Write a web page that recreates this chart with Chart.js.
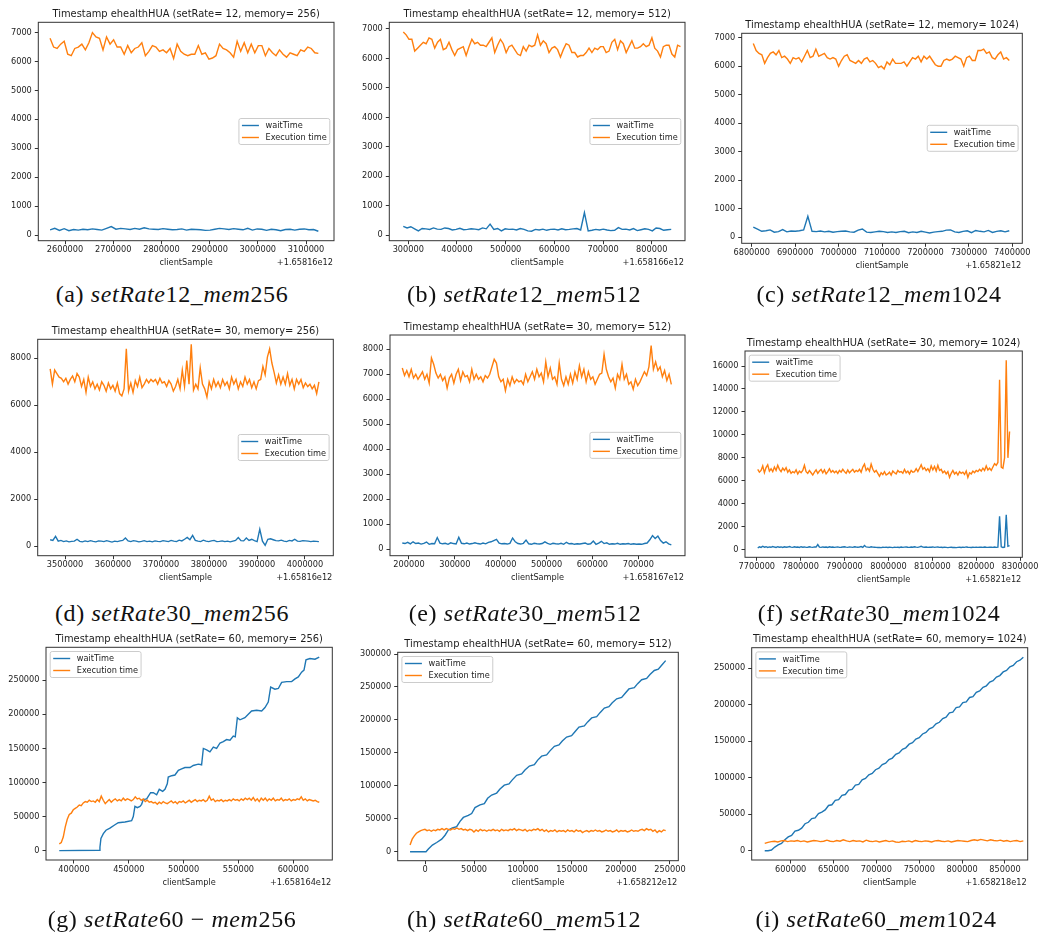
<!DOCTYPE html>
<html>
<head>
<meta charset="utf-8">
<script src="https://cdn.jsdelivr.net/npm/chart.js@4.4.1/dist/chart.umd.min.js"></script>
<style>
  html, body { margin: 0; padding: 0; background: #fff; overflow: hidden; }
  body { position: relative; width: 1038px; height: 933px; }
  canvas { position: absolute; }
  .cap { position: absolute; transform: translate(-50%, -50%); white-space: nowrap;
         font-family: "Liberation Serif", "DejaVu Serif", serif; font-size: 24px; letter-spacing: 0.6px; color: #111; }
  .cap i { font-style: italic; }
</style>
</head>
<body>
<script>
// ---------- sample times (clientSample minus the axis offset) ----------
const aSpan = [2569000, 3125500];
const bExecSpan = [289700, 859000];
const bWaitSpan = [289700, 840000];
const cSpan = [6803700, 7393000];
const dSpan = [3469000, 4029000];
const eSpan = [185400, 772000];
const fSpan = [7702000, 8276000];
const gSpan = [386600, 623700];
const hSpan = [-15300, 245600];
const iSpan = [569700, 871400];

// ---------- setRate 12 ----------
const aExec = [6800, 6500, 6450, 6600, 6700, 6250, 6200, 6450, 6500, 6600, 6400, 6650, 7000, 6850, 6800, 6400, 6850, 6600,
  6750, 6500, 6500, 6250, 6550, 6300, 6450, 6500, 6650, 6200, 6350, 6550, 6500, 6350, 6400, 6300, 6450, 6100, 6600, 6350,
  6250, 6200, 6250, 6250, 6550, 6250, 6300, 6080, 6120, 6200, 6600, 6450, 6400, 6300, 6150, 6700, 6350, 6650, 6300, 6600,
  6300, 6550, 6550, 6200, 6450, 6300, 6200, 6400, 6250, 6150, 6300, 6250, 6200, 6400, 6350, 6500, 6450, 6300, 6280];
const aWait = [180, 230, 160, 220, 150, 190, 170, 200, 180, 210, 190, 170, 230, 290, 200, 230, 210, 190, 230, 200, 250, 210,
  200, 190, 220, 200, 180, 190, 210, 170, 200, 190, 180, 160, 170, 200, 230, 210, 190, 220, 200, 180, 230, 170, 210, 200,
  160, 200, 180, 150, 190, 200, 170, 200, 210, 180, 190, 130];

const bExec = [6900, 6800, 6650, 6650, 6250, 6350, 6450, 6550, 6500, 6700, 6650, 6350, 6550, 6650, 6300, 6350, 6550, 6300,
  6100, 6300, 6350, 6400, 6100, 6400, 6650, 6500, 6550, 6450, 6450, 6400, 6550, 6700, 6200, 6450, 6650, 6500, 6200, 6400,
  6450, 6300, 6150, 6100, 6400, 6250, 6450, 6400, 6450, 6800, 6450, 6600, 6500, 6200, 6350, 6400, 6300, 6050, 6300, 6500,
  6450, 6200, 6200, 6050, 6100, 6100, 6200, 6350, 6200, 6350, 6300, 6400, 6400, 6200, 6250, 6550, 6650, 6300, 6600, 6500,
  6200, 6400, 6600, 6350, 6350, 6400, 6500, 6400, 6450, 6700, 6350, 6250, 6050, 6400, 6450, 6450, 6150, 6050, 6450, 6400];
const bWait = [300, 250, 290, 220, 150, 230, 220, 200, 250, 210, 200, 250, 230, 180, 200, 240, 190, 200, 220, 210, 190, 250,
  220, 380, 200, 230, 150, 220, 200, 210, 180, 230, 200, 150, 140, 200, 180, 210, 170, 200, 210, 180, 220, 190, 200, 220,
  230, 180, 770, 150, 170, 200, 180, 210, 180, 160, 170, 260, 200, 210, 180, 230, 160, 190, 220, 200, 150, 250, 230, 170,
  190, 200];

const cExec = [6800, 6550, 6450, 6400, 6100, 6300, 6450, 6500, 6400, 6550, 6300, 6350, 6250, 6100, 6300, 6250, 6300, 6150,
  6350, 6550, 6300, 6350, 6600, 6350, 6400, 6450, 6300, 6250, 6300, 6250, 6000, 6200, 6350, 6400, 6200, 6150, 6100, 6200,
  6100, 6250, 6300, 6150, 6200, 6100, 5950, 6000, 5900, 6150, 6050, 6250, 6100, 6100, 6100, 6150, 6000, 6150, 6300, 6250,
  6350, 6150, 6350, 6250, 6350, 6200, 6050, 6000, 6000, 6200, 6250, 6200, 6250, 6350, 6300, 6250, 6000, 6300, 6350, 6200,
  6200, 6550, 6550, 6600, 6450, 6500, 6300, 6250, 6400, 6500, 6250, 6300, 6200];
const cWait = [350, 280, 200, 220, 250, 170, 190, 260, 180, 210, 200, 220, 250, 730, 200, 190, 210, 180, 200, 170, 190, 200,
  210, 180, 170, 240, 280, 170, 160, 180, 200, 190, 160, 180, 160, 190, 200, 150, 180, 160, 200, 170, 140, 170, 190, 200,
  240, 250, 180, 160, 200, 220, 150, 230, 200, 180, 230, 160, 200, 220, 180, 220];

// ---------- setRate 30 ----------
const dExec = [7550, 6900, 7500, 7350, 7200, 7150, 7000, 7150, 6900, 7100, 7250, 7000, 7350, 7200, 6800, 7100, 6550, 7200,
  6800, 7000, 6700, 6900, 6650, 7000, 6850, 6600, 6950, 6700, 6850, 6600, 6950, 6500, 6400, 6700, 8400, 6600, 6950, 6550,
  7050, 6800, 7200, 6750, 6900, 7100, 6950, 7100, 7000, 7100, 6900, 7150, 6950, 7000, 6800, 7050, 6900, 6600, 6800, 7100,
  6700, 7500, 6800, 7900, 6900, 8600, 6650, 6900, 6700, 7600, 6900, 6700, 6350, 7000, 6700, 7100, 6800, 7000, 6750, 7100,
  6850, 7000, 6700, 7200, 6900, 7100, 6700, 7000, 6800, 7200, 6900, 7100, 6750, 7000, 6700, 7050, 7100, 7650, 7300, 8050,
  8400, 7800, 7400, 6950, 7300, 6900, 7200, 6900, 7350, 6850, 7100, 6700, 7100, 6900, 7100, 6750, 6950, 6800, 6900, 6700,
  6850, 6500, 7000];
const dWait = [280, 250, 420, 220, 250, 200, 230, 190, 210, 220, 300, 210, 190, 230, 200, 240, 210, 190, 230, 220, 200, 240,
  210, 180, 220, 200, 230, 250, 350, 230, 200, 240, 220, 190, 210, 240, 200, 220, 190, 230, 210, 200, 240, 220, 200, 250,
  220, 200, 260, 230, 300, 380, 280, 460, 250, 220, 200, 260, 220, 200, 230, 250, 200, 210, 230, 200, 220, 190, 220, 250,
  370, 240, 230, 350, 250, 300, 240, 200, 730, 220, 40, 300, 320, 280, 240, 230, 260, 220, 200, 250, 230, 300, 220, 210,
  240, 230, 220, 200, 220, 210, 200];

const eExec = [7250, 6950, 7150, 6900, 7200, 6850, 7000, 6800, 6950, 7100, 6800, 7000, 6650, 7650, 7400, 7050, 6850, 7000,
  6750, 6900, 6450, 6850, 7000, 6650, 7000, 7200, 6750, 7100, 6900, 6950, 6700, 7200, 6800, 7000, 6800, 6900, 6700, 6950,
  6850, 7000, 7300, 7600, 7450, 6900, 6700, 6800, 6350, 6800, 6550, 6900, 6650, 6800, 6700, 6750, 6600, 7000, 6700, 6900,
  7100, 6800, 7200, 6900, 7050, 6700, 7500, 6900, 7250, 6800, 6900, 6600, 7450, 6800, 6550, 6900, 6600, 7000, 6650, 7100,
  6800, 7350, 6900, 7200, 6700, 7100, 6800, 6900, 6600, 6800, 7000, 7050, 7800, 7200, 6900, 6700, 6850, 6450, 7000, 6800,
  7400, 6800, 7000, 6600, 6700, 6400, 6800, 6550, 6700, 6900, 7100, 6950, 7300, 8150, 7200, 7500, 7150, 7300, 6900, 7150,
  6750, 7000, 6600];
const eWait = [250, 230, 280, 220, 300, 230, 250, 210, 240, 290, 200, 230, 220, 470, 250, 220, 240, 200, 260, 230, 210, 480,
  240, 220, 250, 210, 230, 260, 230, 210, 250, 220, 280, 300, 350, 400, 250, 220, 230, 210, 240, 450, 300, 230, 210, 240,
  370, 220, 200, 240, 220, 210, 230, 300, 240, 200, 240, 220, 210, 240, 200, 280, 220, 230, 200, 220, 210, 230, 250, 200,
  220, 330, 200, 250, 320, 230, 260, 200, 220, 210, 240, 200, 220, 210, 230, 200, 220, 200, 210, 200, 230, 250, 380, 550,
  430, 530, 350, 250, 300, 220, 180];

const fExec = [
  7000, 6750, 6900, 7300, 6700, 7150, 7400, 6850, 7050, 6800, 7200, 6900,
  7350, 7000, 6800, 7100, 6900, 7150, 6750, 6950, 6650, 6800, 6700, 6950,
  6600, 6850, 6700, 6900, 7350, 6800, 6650, 6900, 6700, 6500, 6750, 6950,
  6650, 6850, 7000, 6700, 6950, 6600, 6800, 7050, 6750, 6900, 6700, 6850,
  6650, 6900, 6750, 7000, 6800, 6650, 6950, 6700, 6850, 7000, 6750, 6900,
  6800, 7000, 6750, 7200, 7450, 6900, 7100, 6850, 7450, 7000, 6750, 6900,
  6650, 6400, 6700, 6550, 6800, 6500, 6600, 6750, 6500, 6850, 6700, 6600,
  6900, 6750, 6800, 6650, 7000, 6700, 6850, 6600, 6900, 6750, 6800, 7050,
  6800, 7100, 7400, 7000, 7150, 6900, 7050, 6800, 7300, 6950, 7250, 6850,
  7350, 6900, 7000, 6700, 6850, 6600, 6800, 6300, 6650, 6900, 6600, 6750,
  6500, 6800, 6650, 6750, 6550, 6850, 6300, 6700, 6600, 6850, 6700, 6900,
  6800, 7000, 6850, 7100, 6900, 7300, 6950, 7100, 6900, 7200, 7500, 7350,
  7600, 14800, 7200, 7100, 8000, 16500, 8000, 10300];
const fWait = [
  150, 250, 200, 300, 220, 260, 200, 240, 210, 280, 230, 200,
  260, 220, 240, 200, 250, 210, 230, 280, 220, 200, 250, 210,
  230, 200, 260, 220, 240, 200, 210, 250, 220, 200, 240, 230,
  450, 220, 200, 240, 210, 230, 200, 250, 210, 230, 200, 220,
  240, 200, 210, 230, 250, 220, 200, 240, 220, 200, 250, 230,
  220, 240, 270, 200, 360, 240, 220, 200, 250, 220, 210, 200,
  190, 200, 180, 210, 200, 220, 190, 210, 200, 180, 220, 200,
  210, 190, 230, 200, 220, 240, 210, 200, 230, 210, 250, 220,
  200, 240, 300, 220, 210, 230, 200, 220, 210, 240, 200, 220,
  230, 200, 210, 190, 220, 200, 180, 200, 210, 190, 200, 180,
  200, 210, 190, 220, 200, 240, 210, 200, 190, 210, 200, 220,
  200, 210, 220, 200, 230, 210, 200, 220, 210, 200, 230, 200,
  220, 2900, 250, 200, 230, 3050, 300, 350];

// ---------- setRate 60 ----------
const gExec = [10000, 12000, 20000, 35000, 46000, 53000, 55000, 60000, 62000, 64000, 67000, 66000, 70000, 72000, 71000,
  74000, 72000, 73000, 71000, 75000, 72000, 80000, 74000, 69000, 72000, 75000, 71000, 74000, 76000, 73000, 75000, 73000,
  77000, 74000, 76000, 75000, 73000, 75000, 79000, 76000, 77000, 74000, 76000, 72000, 74000, 71000, 72000, 70000, 71000,
  68000, 71000, 69000, 72000, 70000, 69000, 71000, 73000, 70000, 72000, 69000, 72000, 71000, 73000, 70000, 72000, 74000,
  71000, 73000, 75000, 72000, 74000, 73000, 75000, 72000, 74000, 80000, 74000, 76000, 72000, 74000, 73000, 75000, 72000,
  74000, 73000, 75000, 73000, 76000, 74000, 75000, 73000, 76000, 74000, 77000, 75000, 77000, 74000, 78000, 73000, 76000,
  72000, 77000, 74000, 77000, 73000, 76000, 74000, 77000, 73000, 75000, 74000, 77000, 73000, 75000, 74000, 76000, 73000,
  75000, 74000, 76000, 75000, 79000, 74000, 76000, 73000, 75000, 74000, 73000, 74000, 72000, 71000];
const gWaitX = [386600, 423100, 423700, 424600, 426800, 429200, 432800, 437400, 440400, 446500, 452600, 454100, 455600,
  457800, 460200, 461700, 463200, 466300, 469900, 472400, 475400, 477800, 480900, 483000, 485100, 486000, 489100, 492100,
  495200, 498200, 501200, 505800, 508800, 513400, 516400, 518000, 521000, 524000, 527100, 530100, 533200, 536200, 539200,
  542300, 545300, 547100, 549000, 551400, 555900, 559000, 562000, 566600, 571200, 574200, 577200, 579400, 583300, 586400,
  589400, 594000, 598500, 601600, 604600, 607600, 609800, 611600, 615200, 619800, 623700];
const gWaitY = [0, 500, 5000, 18000, 25000, 30000, 33000, 38000, 41000, 42000, 44000, 50000, 65000, 63000, 65000, 68000,
  75000, 76000, 85000, 85000, 82000, 90000, 87000, 90000, 98000, 108000, 110000, 111000, 118000, 120000, 122000, 122000,
  125000, 127000, 126000, 150000, 148000, 145000, 152000, 150000, 158000, 160000, 163000, 162000, 168000, 167000, 195000,
  192000, 195000, 200000, 205000, 206000, 205000, 210000, 218000, 240000, 237000, 238000, 247000, 248000, 248000, 252000,
  255000, 262000, 265000, 280000, 282000, 281000, 284000];

const hExec = [10000, 19000, 24000, 28000, 30000, 32000, 33000, 34000, 32000, 33000, 31000, 33000, 32000, 34000, 33000,
  35000, 33000, 35000, 34000, 33000, 35000, 34000, 36000, 34000, 35000, 33000, 34000, 32000, 34000, 33000, 30000, 33000,
  31000, 34000, 32000, 33000, 31000, 33000, 32000, 34000, 32000, 33000, 31000, 34000, 32000, 33000, 32000, 34000, 33000,
  35000, 32000, 34000, 33000, 32000, 34000, 31000, 33000, 32000, 34000, 33000, 35000, 32000, 34000, 31000, 33000, 30000,
  32000, 31000, 33000, 30000, 32000, 31000, 32000, 30000, 33000, 31000, 32000, 30000, 33000, 31000, 32000, 29000, 31000,
  32000, 30000, 32000, 31000, 33000, 31000, 32000, 30000, 31000, 33000, 31000, 32000, 30000, 31000, 33000, 30000, 32000,
  31000, 32000, 30000, 31000, 33000, 31000, 32000, 31000, 33000, 34000, 32000, 35000, 33000, 34000, 31000, 33000, 29000,
  32000, 30000, 33000, 32000];
const hWaitX = [-15300, 1000, 3400, 7500, 11900, 17000, 20400, 23800, 27900, 32300, 35700, 39100, 44200, 47600, 51000,
  56100, 60500, 63900, 68000, 73100, 76500, 80900, 85700, 89100, 93500, 98600, 102000, 106500, 111600, 115000, 119000,
  124100, 127500, 132000, 136700, 140100, 144500, 149600, 153000, 157100, 162600, 166000, 170100, 175200, 178600, 183000,
  187700, 191100, 195600, 200700, 204100, 208100, 213600, 217000, 221100, 226200, 229600, 234000, 238100, 241500, 245600];
const hWaitY = [0, 0, 4000, 10000, 14000, 19000, 25000, 33000, 36000, 38000, 46000, 52000, 55000, 58000, 67000, 71000,
  73000, 81000, 86000, 89000, 95000, 101000, 103000, 109000, 116000, 118000, 124000, 130000, 132000, 139000, 145000,
  147000, 153000, 160000, 162000, 168000, 174000, 176000, 182000, 189000, 191000, 197000, 203000, 205000, 211000, 218000,
  220000, 226000, 232000, 234000, 240000, 247000, 249000, 255000, 261000, 263000, 269000, 275000, 277000, 283000, 290000];

const iExec = [10000, 11500, 12500, 13000, 12000, 13500, 14000, 12500, 13500, 13000, 14000, 12500, 13500, 12000, 13000,
  14000, 13500, 12500, 13000, 14500, 13000, 12500, 14000, 13000, 15000, 13500, 12500, 14000, 13000, 13500, 12000, 14500,
  13000, 12500, 13500, 12000, 13000, 14000, 12500, 13500, 12000, 11500, 13000, 12500, 13500, 12000, 14000, 13000, 12500,
  13500, 13000, 12000, 13500, 14000, 13000, 12500, 13500, 12000, 13000, 14000, 13500, 13000, 12500, 14000, 15000, 14000,
  15500, 14500, 13500, 15000, 14000, 13500, 14500, 13000, 14000, 12500, 13500, 14000, 12500, 13500];
const iWait = [0, 0, 1000, 5000, 8000, 10000, 15000, 19000, 21000, 27000, 28000, 31000, 37000, 39000, 44000, 45000, 51000,
  53000, 56000, 62000, 63000, 69000, 70000, 76000, 77000, 83000, 84000, 90000, 91000, 97000, 99000, 104000, 106000,
  111000, 113000, 118000, 120000, 125000, 127000, 132000, 134000, 139000, 141000, 146000, 148000, 153000, 155000, 160000,
  162000, 167000, 169000, 174000, 176000, 181000, 183000, 189000, 190000, 196000, 197000, 203000, 204000, 210000, 211000,
  217000, 219000, 224000, 226000, 231000, 233000, 238000, 240000, 245000, 247000, 252000, 254000, 259000, 261000, 265000];

// ---------- tick labels ----------
const yTicks7k = [0, 1000, 2000, 3000, 4000, 5000, 6000, 7000];
const yTicks8kBy2 = [0, 2000, 4000, 6000, 8000];
const yTicks8k = [0, 1000, 2000, 3000, 4000, 5000, 6000, 7000, 8000];
const yTicks16k = [0, 2000, 4000, 6000, 8000, 10000, 12000, 14000, 16000];
const yTicks250k = [0, 50000, 100000, 150000, 200000, 250000];
const yTicks300k = [0, 50000, 100000, 150000, 200000, 250000, 300000];
const xTicksA = [2600000, 2700000, 2800000, 2900000, 3000000, 3100000];
const xTicksB = [300000, 400000, 500000, 600000, 700000, 800000];
const xTicksC = [6800000, 6900000, 7000000, 7100000, 7200000, 7300000, 7400000];
const xTicksD = [3500000, 3600000, 3700000, 3800000, 3900000, 4000000];
const xTicksE = [200000, 300000, 400000, 500000, 600000, 700000];
const xTicksF = [7700000, 7800000, 7900000, 8000000, 8100000, 8200000, 8300000];
const xTicksG = [400000, 450000, 500000, 550000, 600000];
const xTicksH = [0, 50000, 100000, 150000, 200000, 250000];
const xTicksI = [600000, 650000, 700000, 750000, 800000, 850000];
const xOffsets = ['+1.65816e12', '+1.658166e12', '+1.65821e12', '+1.65816e12', '+1.658167e12', '+1.65821e12',
  '+1.658164e12', '+1.658212e12', '+1.658218e12'];
const setRates = [12, 12, 12, 30, 30, 30, 60, 60, 60];
const memories = [256, 512, 1024, 256, 512, 1024, 256, 512, 1024];
const letters = ['a', 'b', 'c', 'd', 'e', 'f', 'g', 'h', 'i'];
const seriesNames = ['waitTime', 'Execution time'];
const xLabel = 'clientSample';

// evenly spaced sample times across a span
function series(values, span) {
  const n = values.length;
  return values.map((v, i) => ({ x: span[0] + (span[1] - span[0]) * i / (n - 1), y: v }));
}
function pairs(xs, ys) { return xs.map((x, i) => ({ x, y: ys[i] })); }

const panelData = [
  { wait: series(aWait, aSpan), exec: series(aExec, aSpan), xt: xTicksA, yt: yTicks7k, legend: 'center right' },
  { wait: series(bWait, bWaitSpan), exec: series(bExec, bExecSpan), xt: xTicksB, yt: yTicks7k, legend: 'center right' },
  { wait: series(cWait, cSpan), exec: series(cExec, cSpan), xt: xTicksC, yt: yTicks7k, legend: 'center right' },
  { wait: series(dWait, dSpan), exec: series(dExec, dSpan), xt: xTicksD, yt: yTicks8kBy2, legend: 'center right' },
  { wait: series(eWait, eSpan), exec: series(eExec, eSpan), xt: xTicksE, yt: yTicks8k, legend: 'center right' },
  { wait: series(fWait, fSpan), exec: series(fExec, fSpan), xt: xTicksF, yt: yTicks16k, legend: 'upper left' },
  { wait: pairs(gWaitX, gWaitY), exec: series(gExec, gSpan), xt: xTicksG, yt: yTicks250k, legend: 'upper left' },
  { wait: pairs(hWaitX, hWaitY), exec: series(hExec, hSpan), xt: xTicksH, yt: yTicks300k, legend: 'upper left' },
  { wait: series(iWait, iSpan), exec: series(iExec, iSpan), xt: xTicksI, yt: yTicks250k, legend: 'upper left' },
];

// page geometry: axes box [left, top, right, bottom], view limits, caption centre
const layout = [
  { box: [38.3, 22.3, 334, 240.7], xLim: [2544600, 3158000], yLim: [-197, 7355], cap: [172, 294] },
  { box: [389.3, 22.3, 685, 240.7], xLim: [261000, 868300], yLim: [-183, 7227], cap: [524, 294] },
  { box: [741.7, 33.3, 1022.3, 243.3], xLim: [6777000, 7423000], yLim: [-221, 7155], cap: [879, 294] },
  { box: [37.7, 339.3, 333.3, 555.7], xLim: [3443000, 4059000], yLim: [-400, 8809], cap: [172, 613] },
  { box: [390, 335, 685, 555.7], xLim: [158600, 801800], yLim: [-256, 8573], cap: [525, 613] },
  { box: [745, 351, 1022.3, 557.3], xLim: [7673000, 8305000], yLim: [-662, 17307], cap: [879, 613] },
  { box: [46, 647.3, 332.3, 860], xLim: [374500, 635600], yLim: [-13700, 298400], cap: [172, 919] },
  { box: [397.7, 652.3, 678.3, 860.7], xLim: [-27900, 258500], yLim: [-13660, 302600], cap: [524, 919] },
  { box: [751.7, 647.7, 1027.7, 860], xLim: [554500, 876500], yLim: [-12700, 278200], cap: [876, 919] },
];

const BLUE = '#1f77b4', ORANGE = '#ff7f0e', INK = '#1c1c1c', SPINE = '#333333';
const FONT = '"DejaVu Sans", sans-serif';
const Y_W = 46, X_H = 30;

Chart.defaults.font.family = FONT;
Chart.defaults.color = INK;

// frame, title, axis label, offset text and in-axes legend
const decor = {
  id: 'decor',
  afterDraw(chart, args, o) {
    const ctx = chart.ctx, ca = chart.chartArea;
    ctx.save();
    ctx.strokeStyle = SPINE; ctx.lineWidth = 1;
    ctx.strokeRect(ca.left, ca.top, ca.right - ca.left, ca.bottom - ca.top);

    ctx.fillStyle = INK;
    ctx.font = '9.9px ' + FONT;
    ctx.textAlign = 'center'; ctx.textBaseline = 'alphabetic';
    ctx.fillText(o.title, (ca.left + ca.right) / 2, ca.top - 5.5);
    ctx.font = '8.2px ' + FONT;
    ctx.fillText(o.xlabel, (ca.left + ca.right) / 2, ca.bottom + 24.5);
    ctx.textAlign = 'right';
    ctx.fillText(o.offset, ca.right - 1, ca.bottom + 24.5);

    // legend
    const items = o.items;
    ctx.font = '8.2px ' + FONT;
    const pad = 3, hl = 17, htp = 6.6, rowH = 8, sp = 4, inset = 4.2;
    const tw = Math.max(...items.map(it => ctx.measureText(it.label).width));
    const w = pad * 2 + hl + htp + tw;
    const h = pad * 2 + items.length * rowH + (items.length - 1) * sp;
    let x, y;
    if (o.loc === 'center right') { x = ca.right - inset - w; y = (ca.top + ca.bottom) / 2 - h / 2; }
    else { x = ca.left + inset; y = ca.top + inset; }
    ctx.beginPath();
    ctx.roundRect(x, y, w, h, 2);
    ctx.fillStyle = 'rgba(255,255,255,0.8)'; ctx.fill();
    ctx.strokeStyle = '#cccccc'; ctx.lineWidth = 1; ctx.stroke();
    items.forEach((it, i) => {
      const cy = y + pad + rowH / 2 + i * (rowH + sp);
      ctx.beginPath();
      ctx.moveTo(x + pad, cy); ctx.lineTo(x + pad + hl, cy);
      ctx.strokeStyle = it.color; ctx.lineWidth = 1.4; ctx.stroke();
      ctx.fillStyle = INK; ctx.textAlign = 'left'; ctx.textBaseline = 'middle';
      ctx.fillText(it.label, x + pad + hl + htp, cy + 0.5);
    });
    ctx.restore();
  }
};

panelData.forEach((p, k) => {
  const L = layout[k];
  const [bl, bt, br, bb] = L.box;
  const cl = Math.floor(bl) - Y_W, ct = Math.floor(bt) - 24;
  const cw = Math.ceil(br) + 16 - cl, ch = Math.ceil(bb) + 36 - ct;
  const cv = document.createElement('canvas');
  cv.width = cw; cv.height = ch;
  cv.style.left = cl + 'px'; cv.style.top = ct + 'px';
  cv.style.width = cw + 'px'; cv.style.height = ch + 'px';
  document.body.appendChild(cv);

  const title = `Timestamp ehealthHUA (setRate= ${setRates[k]}, memory= ${memories[k]})`;
  const tickStyle = { color: SPINE, lineWidth: 1 };

  new Chart(cv, {
    type: 'line',
    data: {
      datasets: [
        { label: seriesNames[0], data: p.wait, borderColor: BLUE, borderWidth: 1.4, pointRadius: 0, tension: 0, fill: false, order: 1 },
        { label: seriesNames[1], data: p.exec, borderColor: ORANGE, borderWidth: 1.4, pointRadius: 0, tension: 0, fill: false, order: 0 },
      ]
    },
    options: {
      responsive: false, maintainAspectRatio: false, animation: false, devicePixelRatio: 1, events: [],
      layout: { padding: { left: bl - cl - Y_W, top: bt - ct, right: cl + cw - br, bottom: ct + ch - bb - X_H } },
      plugins: {
        legend: { display: false }, tooltip: { enabled: false },
        decor: { title, xlabel: xLabel, offset: xOffsets[k], loc: p.legend,
          items: [{ label: seriesNames[0], color: BLUE }, { label: seriesNames[1], color: ORANGE }] }
      },
      scales: {
        x: {
          type: 'linear', position: 'bottom', min: L.xLim[0], max: L.xLim[1],
          border: { display: false },
          grid: { display: true, drawOnChartArea: false, drawTicks: true, tickLength: 3.5, ...tickStyle },
          ticks: { autoSkip: false, maxRotation: 0, minRotation: 0, padding: 1, font: { size: 8.2 }, color: INK,
                   callback: v => String(v) },
          afterBuildTicks: s => { s.ticks = p.xt.map(v => ({ value: v })); },
          afterFit: s => { s.height = X_H; s.paddingLeft = 0; s.paddingRight = 0; }
        },
        y: {
          type: 'linear', position: 'left', min: L.yLim[0], max: L.yLim[1],
          border: { display: false },
          grid: { display: true, drawOnChartArea: false, drawTicks: true, tickLength: 3.5, ...tickStyle },
          ticks: { autoSkip: false, padding: 3, font: { size: 8.2 }, color: INK, callback: v => String(v) },
          afterBuildTicks: s => { s.ticks = p.yt.map(v => ({ value: v })); },
          afterFit: s => { s.width = Y_W; s.paddingTop = 0; s.paddingBottom = 0; }
        }
      }
    },
    plugins: [decor]
  });

  const cap = document.createElement('div');
  cap.className = 'cap';
  cap.style.left = L.cap[0] + 'px'; cap.style.top = L.cap[1] + 'px';
  const joiner = letters[k] === 'g' ? ' \u2212 ' : '_';
  cap.innerHTML = `(${letters[k]}) <i>setRate</i>${setRates[k]}${joiner}<i>mem</i>${memories[k]}`;
  document.body.appendChild(cap);
});
</script>
</body>
</html>
